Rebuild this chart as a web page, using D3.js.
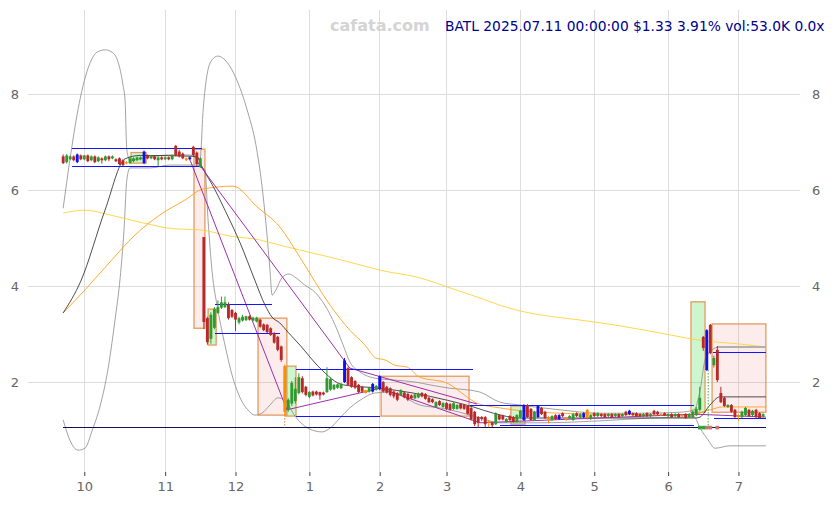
<!DOCTYPE html>
<html><head><meta charset="utf-8">
<script src="https://cdn.jsdelivr.net/npm/d3@7"></script>
<style>body{margin:0;background:#fff}svg{display:block}text{font-family:"DejaVu Sans",sans-serif}</style>
</head><body><svg id="c" width="835" height="505"></svg>
<script>
// ---------- data ----------
const monthTicks = [6,29,49,70,90,109,130,151,172,192];
const monthLabels = ["10","11","12","1","2","3","4","5","6","7"];
const yTicks = [2,4,6,8];
const titleText = "BATL 2025.07.11 00:00:00 $1.33 3.91% vol:53.0K 0.0x";
const watermark = "cafata.com";
// [open, high, low, close] per trading day, 2024-09-23 .. 2025-07-11
const candles = [
[6.70,6.74,6.54,6.56],[6.58,6.75,6.55,6.72],[6.64,6.72,6.62,6.70],[6.70,6.72,6.60,6.62],[6.58,6.76,6.56,6.74],
[6.72,6.74,6.62,6.64],[6.64,6.73,6.62,6.72],[6.72,6.74,6.58,6.60],[6.62,6.72,6.60,6.70],[6.70,6.72,6.56,6.58],
[6.60,6.70,6.58,6.68],[6.66,6.68,6.55,6.62],[6.62,6.72,6.60,6.70],[6.70,6.72,6.60,6.64],[6.66,6.72,6.64,6.70],
[6.64,6.66,6.58,6.60],[6.66,6.68,6.52,6.54],[6.62,6.64,6.50,6.52],[6.56,6.60,6.54,6.58],[6.56,6.70,6.54,6.66],
[6.60,6.68,6.58,6.66],[6.62,6.70,6.60,6.68],[6.64,6.70,6.62,6.68],[6.56,6.82,6.54,6.80],[6.72,6.74,6.64,6.66],
[6.66,6.72,6.64,6.70],[6.70,6.72,6.62,6.64],[6.62,6.70,6.50,6.68],[6.68,6.70,6.62,6.64],[6.64,6.70,6.62,6.68],
[6.68,6.70,6.62,6.64],[6.64,6.74,6.62,6.72],[6.92,6.94,6.70,6.72],[6.80,6.84,6.68,6.70],[6.76,6.78,6.64,6.66],
[6.66,6.68,6.60,6.62],[6.64,6.70,6.62,6.68],[6.90,6.92,6.70,6.73],[6.78,6.80,6.50,6.54],[6.48,6.68,6.46,6.66],
[5.02,5.02,3.10,3.25],[3.33,3.36,2.78,2.83],[2.90,3.45,2.80,3.40],[3.13,3.56,3.10,3.52],[3.44,3.70,3.42,3.56],
[3.55,3.78,3.52,3.66],[3.56,3.78,3.54,3.66],[3.62,3.66,3.30,3.33],[3.50,3.52,3.33,3.36],[3.44,3.46,3.06,3.30],
[3.24,3.36,3.20,3.33],[3.28,3.40,3.26,3.36],[3.29,3.38,3.27,3.37],[3.37,3.39,3.28,3.30],[3.28,3.36,3.26,3.34],
[3.26,3.36,3.24,3.34],[3.30,3.32,3.13,3.15],[3.20,3.22,3.06,3.08],[3.19,3.21,3.02,3.04],[3.12,3.14,2.96,2.98],
[3.02,3.04,2.80,2.82],[2.94,2.96,2.64,2.67],[2.74,2.76,2.42,2.46],[2.33,2.36,1.30,1.38],[1.42,1.66,1.38,1.63],
[1.55,2.02,1.50,1.98],[1.60,2.10,1.55,1.86],[1.77,2.18,1.74,2.10],[2.08,2.12,1.76,1.79],[1.90,1.92,1.70,1.73],
[1.69,1.81,1.66,1.79],[1.80,1.82,1.70,1.72],[1.80,1.82,1.72,1.74],[1.79,1.80,1.63,1.72],[1.78,1.80,1.72,1.74],
[1.79,2.31,1.77,2.08],[1.84,2.10,1.82,2.06],[1.85,1.96,1.83,1.94],[1.88,1.97,1.86,1.95],[1.87,1.98,1.85,1.96],
[2.00,2.50,1.98,2.45],[2.29,2.32,1.92,1.94],[2.10,2.12,1.88,1.90],[2.02,2.04,1.85,1.88],[1.94,1.96,1.77,1.79],
[1.90,1.92,1.78,1.80],[1.83,1.84,1.76,1.77],[1.80,1.90,1.78,1.88],[1.80,1.98,1.78,1.96],[1.84,1.94,1.82,1.92],
[1.85,2.14,1.83,2.12],[2.00,2.02,1.78,1.80],[1.90,1.92,1.76,1.78],[1.87,1.89,1.70,1.73],[1.80,1.82,1.66,1.70],
[1.77,1.79,1.60,1.63],[1.73,1.85,1.71,1.83],[1.78,1.80,1.66,1.68],[1.75,1.77,1.60,1.63],[1.72,1.74,1.64,1.66],
[1.66,1.76,1.64,1.74],[1.68,1.78,1.66,1.76],[1.77,1.79,1.68,1.70],[1.75,1.77,1.63,1.65],[1.67,1.69,1.56,1.58],
[1.64,1.66,1.56,1.58],[1.48,1.60,1.46,1.58],[1.60,1.62,1.50,1.52],[1.48,1.58,1.46,1.56],[1.56,1.58,1.42,1.44],
[1.54,1.56,1.40,1.42],[1.44,1.58,1.42,1.56],[1.44,1.54,1.42,1.52],[1.54,1.56,1.43,1.45],[1.52,1.54,1.42,1.44],
[1.50,1.52,1.32,1.34],[1.46,1.48,1.20,1.22],[1.38,1.40,1.08,1.12],[1.27,1.29,1.05,1.15],[1.27,1.29,1.19,1.23],
[1.27,1.29,1.06,1.12],[1.18,1.21,1.06,1.16],[1.15,1.17,1.06,1.10],[1.12,1.37,1.10,1.35],[1.31,1.33,1.20,1.22],
[1.30,1.32,1.20,1.22],[1.17,1.25,1.15,1.23],[1.29,1.31,1.19,1.21],[1.27,1.29,1.15,1.17],[1.17,1.33,1.15,1.31],
[1.27,1.42,1.25,1.40],[1.21,1.54,1.19,1.52],[1.52,1.54,1.25,1.27],[1.44,1.46,1.19,1.21],[1.21,1.40,1.19,1.38],
[1.27,1.52,1.25,1.50],[1.46,1.48,1.31,1.33],[1.38,1.40,1.23,1.25],[1.27,1.29,1.14,1.21],[1.21,1.31,1.19,1.29],
[1.31,1.33,1.21,1.23],[1.23,1.33,1.21,1.31],[1.35,1.37,1.27,1.29],[1.25,1.27,1.19,1.21],[1.25,1.31,1.23,1.29],
[1.21,1.35,1.19,1.33],[1.35,1.37,1.27,1.29],[1.27,1.35,1.25,1.33],[1.27,1.37,1.25,1.35],[1.42,1.44,1.21,1.25],
[1.23,1.33,1.21,1.31],[1.35,1.37,1.27,1.29],[1.29,1.37,1.27,1.35],[1.33,1.35,1.27,1.29],[1.33,1.35,1.25,1.27],
[1.29,1.35,1.27,1.33],[1.33,1.35,1.25,1.27],[1.29,1.35,1.27,1.33],[1.33,1.35,1.25,1.27],[1.29,1.35,1.27,1.33],
[1.38,1.40,1.29,1.31],[1.33,1.42,1.31,1.40],[1.35,1.37,1.29,1.31],[1.35,1.37,1.27,1.29],[1.33,1.35,1.27,1.29],
[1.29,1.35,1.27,1.33],[1.35,1.37,1.27,1.29],[1.29,1.35,1.27,1.33],[1.40,1.42,1.31,1.33],[1.38,1.40,1.31,1.33],
[1.33,1.35,1.29,1.31],[1.35,1.37,1.29,1.31],[1.29,1.35,1.27,1.33],[1.33,1.35,1.25,1.27],[1.29,1.35,1.27,1.33],
[1.33,1.35,1.25,1.27],[1.31,1.33,1.27,1.29],[1.33,1.35,1.23,1.25],[1.27,1.35,1.25,1.33],[1.27,1.40,1.25,1.38],
[1.31,1.48,1.29,1.44],[1.42,1.90,1.40,1.67],[2.94,2.96,2.65,2.71],[2.25,3.10,2.23,3.08],[3.19,3.21,2.58,2.60],
[2.35,2.55,2.30,2.50],[2.67,2.75,2.00,2.04],[1.77,1.90,1.56,1.58],[1.67,1.69,1.48,1.50],[1.48,1.54,1.46,1.52],
[1.52,1.54,1.36,1.38],[1.42,1.44,1.25,1.27],[1.31,1.33,1.19,1.27],[1.27,1.40,1.25,1.38],[1.31,1.48,1.29,1.46],
[1.42,1.44,1.27,1.29],[1.31,1.42,1.29,1.40],[1.42,1.44,1.25,1.27],[1.35,1.37,1.23,1.25],[1.28,1.35,1.26,1.33]
];
const blueIdx = [4,23,36,80,88,90,131,135,141,148,161,183];
const orangeIdx = [18,35,63,86,121,138,143,149,170,176,192];
// bands / averages as [dayIndex, price] points
const upperBand = [[0,5.62],[1.9,6.62],[4.2,7.67],[7.1,8.54],[9.6,8.87],[11.9,8.92],[13.9,8.87],[15.6,8.67],[17.0,8.19],[17.6,7.87],[18.1,6.83],[19.0,6.62],[24.7,6.69],[30.4,6.73],[36.1,6.73],[38.9,6.62],[39.8,7.67],[40.9,8.40],[42.3,8.71],[44.0,8.79],[46.0,8.71],[48.0,8.50],[50.3,8.12],[52.5,7.62],[54.8,6.94],[56.5,6.10],[57.7,5.27],[58.8,4.33],[59.4,3.81],[60.5,3.92],[62.2,4.17],[64.2,4.25],[66.2,4.17],[68.7,4.02],[71.6,3.87],[74.4,3.60],[77.3,3.19],[79.6,2.77],[81.5,2.42],[84.4,2.21],[88.6,2.08],[94.3,2.04],[100.0,2.00],[104.3,1.94],[110.0,1.87],[115.7,1.83],[118.5,1.79],[124.2,1.58],[129.9,1.52],[141.3,1.42],[152.6,1.35],[164.0,1.35],[175.4,1.37],[179.4,1.42],[181.1,1.83],[182.5,2.46],[184.5,2.67],[186.7,2.73],[199.8,2.73]];
const lowerBand = [[0,1.21],[1.9,0.79],[4.2,0.58],[6.2,0.62],[8.2,0.98],[10.5,1.50],[12.7,2.25],[14.7,3.27],[16.2,4.17],[17.3,5.17],[18.1,6.21],[19.0,6.46],[24.7,6.46],[30.4,6.52],[37.5,6.52],[40.3,6.42],[41.2,5.37],[42.3,4.33],[44.0,3.50],[46.0,2.77],[48.0,2.15],[50.3,1.67],[52.5,1.42],[54.5,1.31],[56.5,1.35],[58.8,1.52],[61.1,1.67],[63.1,1.62],[65.9,1.29],[68.7,1.08],[71.6,0.98],[73.6,0.96],[75.9,1.04],[78.7,1.25],[81.5,1.46],[84.4,1.62],[88.6,1.77],[92.9,1.79],[95.7,1.73],[101.4,1.52],[107.1,1.46],[112.8,1.37],[118.5,1.25],[124.2,1.15],[135.6,1.15],[152.6,1.19],[166.8,1.25],[179.4,1.27],[181.1,1.04],[183.4,0.79],[185.3,0.62],[189.6,0.67],[199.8,0.67]];
const blackAvg = [[0,3.44],[5,4.10],[11.9,5.58],[17.6,6.65],[22,6.72],[38,6.70],[39.5,6.48],[43.2,6.00],[46.0,5.58],[50.3,4.90],[54.5,4.12],[57.4,3.60],[59.4,3.35],[61.6,3.23],[63.9,3.04],[67.3,2.77],[73.0,2.29],[79.6,1.94],[90.1,1.87],[99.5,1.77],[109.2,1.62],[116.6,1.48],[122.3,1.35],[129.9,1.25],[152.6,1.25],[179.9,1.25],[181.1,1.27],[183.9,1.52],[186.7,1.69],[199.8,1.69]];
const orangeAvg = [[0,3.44],[6.2,3.92],[13.3,4.50],[20.4,5.06],[27.5,5.48],[34.6,5.79],[39.8,6.02],[48.3,6.08],[55.1,5.65],[61.6,5.23],[67.3,4.60],[75.9,3.60],[81.5,3.08],[85.8,2.77],[88.9,2.50],[91.5,2.46],[94.3,2.35],[97.8,2.31],[101.4,2.10],[109.1,1.98],[114.8,1.69],[117.6,1.56],[124.2,1.46],[135.6,1.37],[152.6,1.33],[178.2,1.31],[183.9,1.42],[187.6,1.48],[199.8,1.48]];
const goldAvg = [[0,5.52],[6.2,5.58],[13.3,5.48],[21.8,5.33],[31.8,5.19],[38.9,5.17],[47.4,5.04],[55.9,4.96],[61.6,4.85],[67.3,4.75],[75.9,4.60],[84.4,4.44],[90.1,4.33],[101.4,4.17],[110.0,3.96],[118.5,3.75],[124.2,3.60],[129.9,3.48],[135.6,3.40],[147,3.29],[158.3,3.17],[169.7,3.02],[181.1,2.87],[192.4,2.79],[199.8,2.73]];
const trendA = [[37.8,6.62],[81.5,2.29],[117.7,1.54]];
const trendB = [[36.1,6.62],[63.6,1.42],[90.1,1.87],[118.5,1.15],[179.4,1.33],[199.8,1.27]];
// pattern boxes: [startIdx, endIdx, top, bottom, kind]
const boxes = [[19.3,23.6,6.78,6.56,"up"],[37.2,40.3,6.85,3.12,"down"],[41.2,43.5,3.52,2.77,"up"],[55.4,63.6,3.33,1.31,"down"],[63.3,66.2,2.33,1.29,"up"],[90.4,115.4,2.12,1.29,"down"],[127.3,131.3,1.50,1.12,"up"],[178.5,182.5,3.67,1.37,"up"],[184.5,199.8,3.21,1.37,"down"]];
// support / resistance levels: [startIdx, endIdx, price, kind]
const levels = [[2.5,39.5,6.875,"b"],[2.5,39.5,6.50,"b"],[43.2,59.4,3.625,"b"],[43.2,61.6,3.02,"b"],[66.2,116.5,2.27,"b"],[66.2,90.1,1.29,"b"],[115.7,179.4,1.52,"b"],[124.2,179.4,1.10,"b"],[184.8,199.8,2.625,"b"],[185,199.8,1.25,"b"],[0,199.8,1.05,"n"],[186.2,199.8,2.73,"g"]];
const dotted = [[63,1.31,1.05,"o"],[183.4,2.25,1.05,"g"]];
const markers = [[181,"up"],[182,"up"],[183,"down"],[184,"down"],[186,"down"]];
const markerPrice = 1.05;

// ---------- drawing ----------
const svg = d3.select("#c");
const x = d3.scaleLinear().domain([-10, 209.5]).range([28, 800]);
const y = d3.scaleLinear().domain([0.125, 9.75]).range([472, 10]);

const grid = svg.append("g").attr("shape-rendering", "crispEdges");
grid.selectAll("line.h").data(yTicks).join("line")
  .attr("x1", 28).attr("x2", 800).attr("y1", d => y(d)).attr("y2", d => y(d))
  .attr("stroke", "#dddddd").attr("stroke-width", 1);
grid.selectAll("line.v").data(monthTicks).join("line")
  .attr("x1", d => x(d)).attr("x2", d => x(d)).attr("y1", 10).attr("y2", 472)
  .attr("stroke", "#dddddd").attr("stroke-width", 1);

// x axis
const xAxis = d3.axisBottom(x).tickValues(monthTicks).tickFormat((d, i) => monthLabels[i]).tickSize(4).tickPadding(6);
const gx = svg.append("g").attr("transform", "translate(0,472)").call(xAxis);
gx.select(".domain").remove();
gx.selectAll("line").attr("stroke", "#444");
gx.selectAll("text").attr("fill", "#666").attr("font-size", 13).attr("font-family", "DejaVu Sans");

// y axes
const yl = d3.axisLeft(y).tickValues(yTicks).tickSize(0).tickPadding(0);
const gyl = svg.append("g").attr("transform", "translate(19,0)").call(yl);
const yr = d3.axisRight(y).tickValues(yTicks).tickSize(0).tickPadding(0);
const gyr = svg.append("g").attr("transform", "translate(812,0)").call(yr);
[gyl, gyr].forEach(g => {
  g.select(".domain").remove();
  g.selectAll("text").attr("fill", "#666").attr("font-size", 13).attr("font-family", "DejaVu Sans");
});

// boxes
svg.append("g").selectAll("rect").data(boxes).join("rect")
  .attr("x", d => x(d[0])).attr("y", d => y(d[2]))
  .attr("width", d => x(d[1]) - x(d[0])).attr("height", d => y(d[3]) - y(d[2]))
  .attr("fill", d => d[4] === "up" ? "rgba(60,220,60,0.25)" : "rgba(240,110,110,0.13)")
  .attr("stroke", "#e59a5e").attr("stroke-width", 1.3);

const line = d3.line().x(d => x(d[0])).y(d => y(d[1])).curve(d3.curveMonotoneX);
const lineStraight = d3.line().x(d => x(d[0])).y(d => y(d[1]));
const lg = svg.append("g").attr("fill", "none");
lg.append("path").attr("d", line(upperBand)).attr("stroke", "#8a8a8a").attr("stroke-width", 0.8);
lg.append("path").attr("d", line(lowerBand)).attr("stroke", "#8a8a8a").attr("stroke-width", 0.8);
lg.append("path").attr("d", line(goldAvg)).attr("stroke", "#ffd23a").attr("stroke-width", 0.9);
lg.append("path").attr("d", line(orangeAvg)).attr("stroke", "#ffa21a").attr("stroke-width", 0.9);
lg.append("path").attr("d", line(blackAvg)).attr("stroke", "#222").attr("stroke-width", 0.8);
lg.append("path").attr("d", lineStraight(trendA)).attr("stroke", "#9b30a8").attr("stroke-width", 1);
lg.append("path").attr("d", lineStraight(trendB)).attr("stroke", "#9b30a8").attr("stroke-width", 1);

const levelColor = {b: "#1414ff", n: "#10105a", g: "#b0b0b0"};
svg.append("g").attr("shape-rendering", "crispEdges").selectAll("line").data(levels).join("line")
  .attr("x1", d => x(d[0])).attr("x2", d => x(d[1])).attr("y1", d => y(d[2])).attr("y2", d => y(d[2]))
  .attr("stroke", d => levelColor[d[3]]).attr("stroke-width", d => d[3] === "g" ? 2 : 1);

svg.append("g").selectAll("line").data(dotted).join("line")
  .attr("x1", d => x(d[0])).attr("x2", d => x(d[0])).attr("y1", d => y(d[1])).attr("y2", d => y(d[2]))
  .attr("stroke", d => d[3] === "o" ? "#f08030" : "#40b040").attr("stroke-width", 1).attr("stroke-dasharray", "1.5,1.5");

// candles
const blueSet = new Set(blueIdx), orangeSet = new Set(orangeIdx);
const colorOf = (d, i) => blueSet.has(i) ? "#1010ee" : orangeSet.has(i) ? "#ff8c00" : (d[3] >= d[0] ? "#2f9a2f" : "#b82a2a");
const cg = svg.append("g");
cg.selectAll("line").data(candles).join("line")
  .attr("x1", (d, i) => x(i)).attr("x2", (d, i) => x(i))
  .attr("y1", d => y(d[1])).attr("y2", d => y(d[2]))
  .attr("stroke", colorOf).attr("stroke-width", 1);
const bw = (x(1) - x(0)) * 0.82;
cg.selectAll("rect").data(candles).join("rect")
  .attr("x", (d, i) => x(i) - bw / 2).attr("width", bw)
  .attr("y", d => y(Math.max(d[0], d[3])))
  .attr("height", d => Math.max(1.2, Math.abs(y(d[0]) - y(d[3]))))
  .attr("fill", colorOf);

// markers
svg.append("g").selectAll("rect").data(markers).join("rect")
  .attr("x", d => x(d[0]) - 1.8).attr("y", y(markerPrice) - 1.8).attr("width", 3.6).attr("height", 3.6)
  .attr("fill", d => d[1] === "up" ? "#3aa03a" : "#d07070");

// texts
svg.append("text").attr("x", 330).attr("y", 31).text(watermark)
  .attr("font-size", 16).attr("font-weight", "bold").attr("fill", "#d4d4d4");
svg.append("text").attr("x", 445).attr("y", 31).text(titleText)
  .attr("font-size", 13.8).attr("fill", "#00008b");
</script></body></html>
